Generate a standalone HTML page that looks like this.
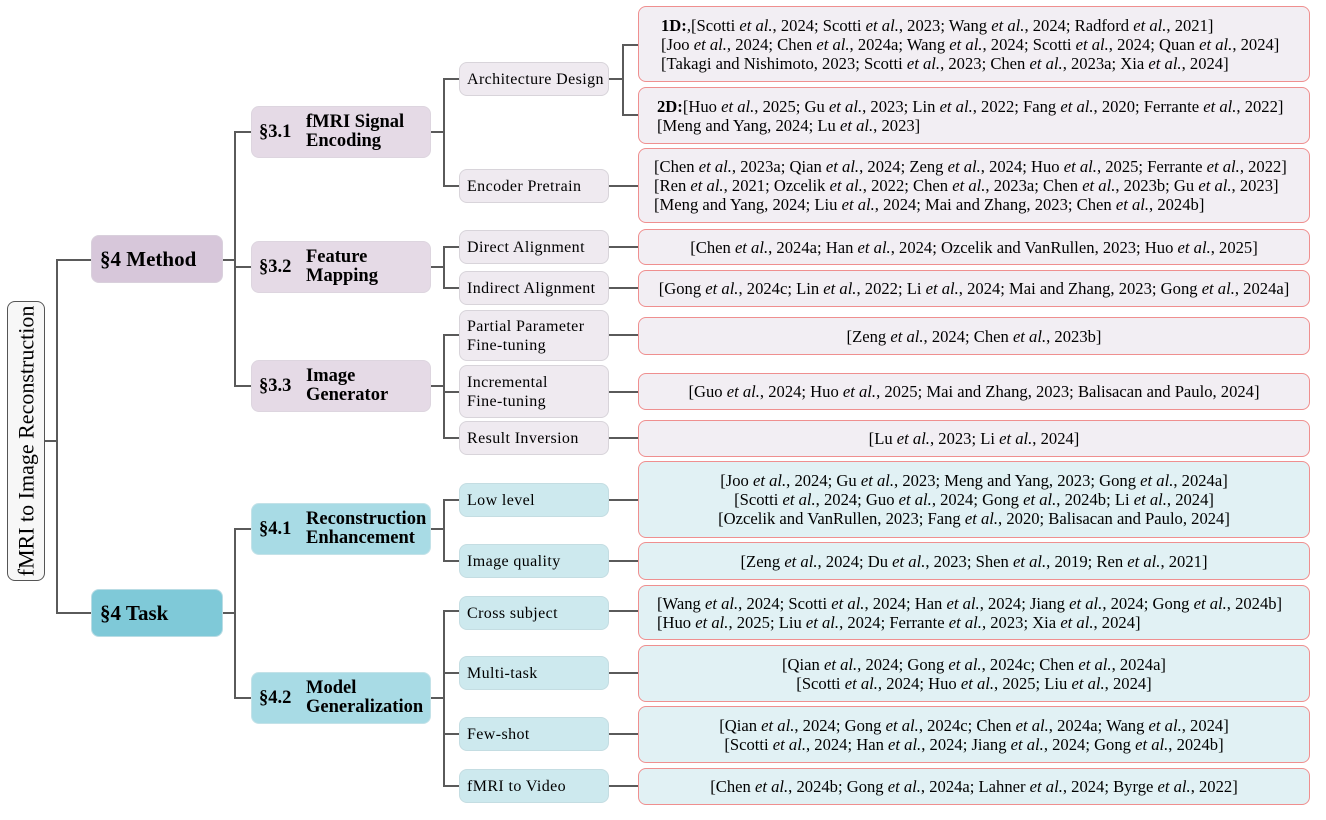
<!DOCTYPE html>
<html><head><meta charset="utf-8"><style>
body{margin:0;width:1326px;height:820px;background:#fff;position:relative;font-family:"Liberation Serif",serif;overflow:hidden}
.b{position:absolute;box-sizing:border-box;display:flex;align-items:center;border-radius:8px}
.l{position:absolute;background:#5a5a5a}
.h{height:2px}.v{width:2px}
.m1{background:#d7c7da;border:1px solid #d9d0dc}
.m2{background:#e5dae6;border:1px solid #ddd5df}
.m3{background:#efeaf0;border:1px solid #d8d4da;font-size:16px;letter-spacing:0.4px;padding-left:7px;line-height:19px}
.r1{background:#f2eef3;border:1px solid #ef8f8f;font-size:16.6px;line-height:19px;justify-content:center;text-align:center;white-space:nowrap}
.t1{background:#7fc9d8;border:1px solid #b9dce4}
.t2{background:#a8dbe5;border:1px solid #c3e2e8}
.t3{background:#cde9ee;border:1px solid #c4dde2;font-size:16px;letter-spacing:0.4px;padding-left:7px;line-height:19px}
.r2{background:#e1f1f4;border:1px solid #ef8f8f;font-size:16.6px;line-height:19px;justify-content:center;text-align:center;white-space:nowrap}
.big{font-weight:bold;font-size:21px;padding-left:8px}
.sub{font-weight:bold;font-size:18.5px;line-height:19px}
.sub .n{width:47px;padding-left:7px;flex:none}
.left{justify-content:flex-start;text-align:left;padding-left:20px}
</style></head><body>
<div class="b" style="left:7px;top:301px;width:38px;height:280px;border:1px solid #555;border-radius:8px;background:#f7f7f7;justify-content:center"><div style="transform:rotate(-90deg);white-space:nowrap;font-size:22px">fMRI to Image Reconstruction</div></div>
<div class="l h" style="left:45px;top:440px;width:13px"></div>
<div class="l v" style="left:56px;top:259px;height:355px"></div>
<div class="l h" style="left:56px;top:259px;width:35px"></div>
<div class="l h" style="left:56px;top:612px;width:35px"></div>

<div class="b m1 big" style="left:91px;top:235px;width:132px;height:48px">§4 Method</div>
<div class="b t1 big" style="left:91px;top:589px;width:132px;height:48px">§4 Task</div>

<div class="l h" style="left:223px;top:259px;width:13px"></div>
<div class="l v" style="left:234px;top:131px;height:256px"></div>
<div class="l h" style="left:234px;top:131px;width:17px"></div>
<div class="l h" style="left:234px;top:266px;width:17px"></div>
<div class="l h" style="left:234px;top:385px;width:17px"></div>
<div class="l h" style="left:223px;top:612px;width:13px"></div>
<div class="l v" style="left:234px;top:528px;height:171px"></div>
<div class="l h" style="left:234px;top:528px;width:17px"></div>
<div class="l h" style="left:234px;top:697px;width:17px"></div>

<div class="b m2 sub" style="left:251px;top:106px;width:180px;height:52px"><span class="n">§3.1</span><span>fMRI Signal<br>Encoding</span></div>
<div class="b m2 sub" style="left:251px;top:241px;width:180px;height:52px"><span class="n">§3.2</span><span>Feature<br>Mapping</span></div>
<div class="b m2 sub" style="left:251px;top:360px;width:180px;height:52px"><span class="n">§3.3</span><span>Image<br>Generator</span></div>
<div class="b t2 sub" style="left:251px;top:503px;width:180px;height:52px"><span class="n">§4.1</span><span>Reconstruction<br>Enhancement</span></div>
<div class="b t2 sub" style="left:251px;top:672px;width:180px;height:52px"><span class="n">§4.2</span><span>Model<br>Generalization</span></div>

<div class="l h" style="left:431px;top:131px;width:14px"></div>
<div class="l v" style="left:443px;top:78px;height:108px"></div>
<div class="l h" style="left:443px;top:78px;width:16px"></div>
<div class="l h" style="left:443px;top:185px;width:16px"></div>
<div class="l h" style="left:431px;top:266px;width:14px"></div>
<div class="l v" style="left:443px;top:246px;height:42px"></div>
<div class="l h" style="left:443px;top:246px;width:16px"></div>
<div class="l h" style="left:443px;top:287px;width:16px"></div>
<div class="l h" style="left:431px;top:385px;width:14px"></div>
<div class="l v" style="left:443px;top:334px;height:104px"></div>
<div class="l h" style="left:443px;top:334px;width:16px"></div>
<div class="l h" style="left:443px;top:391px;width:16px"></div>
<div class="l h" style="left:443px;top:437px;width:16px"></div>
<div class="l h" style="left:431px;top:528px;width:14px"></div>
<div class="l v" style="left:443px;top:499px;height:62px"></div>
<div class="l h" style="left:443px;top:499px;width:16px"></div>
<div class="l h" style="left:443px;top:560px;width:16px"></div>
<div class="l h" style="left:431px;top:697px;width:14px"></div>
<div class="l v" style="left:443px;top:610px;height:176px"></div>
<div class="l h" style="left:443px;top:610px;width:16px"></div>
<div class="l h" style="left:443px;top:672px;width:16px"></div>
<div class="l h" style="left:443px;top:733px;width:16px"></div>
<div class="l h" style="left:443px;top:785px;width:16px"></div>

<div class="b m3" style="left:459px;top:62px;width:150px;height:34px">Architecture Design</div>
<div class="b m3" style="left:459px;top:169px;width:150px;height:34px">Encoder Pretrain</div>
<div class="b m3" style="left:459px;top:230px;width:150px;height:34px">Direct Alignment</div>
<div class="b m3" style="left:459px;top:271px;width:150px;height:34px">Indirect Alignment</div>
<div class="b m3" style="left:459px;top:310px;width:150px;height:51px">Partial Parameter<br>Fine-tuning</div>
<div class="b m3" style="left:459px;top:365px;width:150px;height:53px">Incremental<br>Fine-tuning</div>
<div class="b m3" style="left:459px;top:421px;width:150px;height:34px">Result Inversion</div>
<div class="b t3" style="left:459px;top:483px;width:150px;height:34px">Low level</div>
<div class="b t3" style="left:459px;top:544px;width:150px;height:34px">Image quality</div>
<div class="b t3" style="left:459px;top:596px;width:150px;height:34px">Cross subject</div>
<div class="b t3" style="left:459px;top:656px;width:150px;height:34px">Multi-task</div>
<div class="b t3" style="left:459px;top:717px;width:150px;height:34px">Few-shot</div>
<div class="b t3" style="left:459px;top:769px;width:150px;height:34px">fMRI to Video</div>

<div class="l h" style="left:609px;top:78px;width:15px"></div>
<div class="l v" style="left:622px;top:44px;height:72px"></div>
<div class="l h" style="left:622px;top:44px;width:16px"></div>
<div class="l h" style="left:622px;top:114px;width:16px"></div>
<div class="l h" style="left:609px;top:185px;width:29px"></div>
<div class="l h" style="left:609px;top:246px;width:29px"></div>
<div class="l h" style="left:609px;top:287px;width:29px"></div>
<div class="l h" style="left:609px;top:334px;width:29px"></div>
<div class="l h" style="left:609px;top:391px;width:29px"></div>
<div class="l h" style="left:609px;top:437px;width:29px"></div>
<div class="l h" style="left:609px;top:499px;width:29px"></div>
<div class="l h" style="left:609px;top:560px;width:29px"></div>
<div class="l h" style="left:609px;top:610px;width:29px"></div>
<div class="l h" style="left:609px;top:672px;width:29px"></div>
<div class="l h" style="left:609px;top:733px;width:29px"></div>
<div class="l h" style="left:609px;top:785px;width:29px"></div>

<div class="b r1 left" style="left:638px;top:6px;width:672px;height:76px;padding-left:22px"><div><b>1D:</b>,[Scotti <i>et al.</i>, 2024; Scotti <i>et al.</i>, 2023; Wang <i>et al.</i>, 2024; Radford <i>et al.</i>, 2021]<br>[Joo <i>et al.</i>, 2024; Chen <i>et al.</i>, 2024a; Wang <i>et al.</i>, 2024; Scotti <i>et al.</i>, 2024; Quan <i>et al.</i>, 2024]<br>[Takagi and Nishimoto, 2023; Scotti <i>et al.</i>, 2023; Chen <i>et al.</i>, 2023a; Xia <i>et al.</i>, 2024]</div></div>
<div class="b r1 left" style="left:638px;top:87px;width:672px;height:57px;padding-left:18px"><div><b>2D:</b>[Huo <i>et al.</i>, 2025; Gu <i>et al.</i>, 2023; Lin <i>et al.</i>, 2022; Fang <i>et al.</i>, 2020; Ferrante <i>et al.</i>, 2022]<br>[Meng and Yang, 2024; Lu <i>et al.</i>, 2023]</div></div>
<div class="b r1 left" style="left:638px;top:148px;width:672px;height:75px;padding-left:15px"><div>[Chen <i>et al.</i>, 2023a; Qian <i>et al.</i>, 2024; Zeng <i>et al.</i>, 2024; Huo <i>et al.</i>, 2025; Ferrante <i>et al.</i>, 2022]<br>[Ren <i>et al.</i>, 2021; Ozcelik <i>et al.</i>, 2022; Chen <i>et al.</i>, 2023a; Chen <i>et al.</i>, 2023b; Gu <i>et al.</i>, 2023]<br>[Meng and Yang, 2024; Liu <i>et al.</i>, 2024; Mai and Zhang, 2023; Chen <i>et al.</i>, 2024b]</div></div>
<div class="b r1" style="left:638px;top:229px;width:672px;height:36px"><div>[Chen <i>et al.</i>, 2024a; Han <i>et al.</i>, 2024; Ozcelik and VanRullen, 2023; Huo <i>et al.</i>, 2025]</div></div>
<div class="b r1" style="left:638px;top:270px;width:672px;height:37px"><div>[Gong <i>et al.</i>, 2024c; Lin <i>et al.</i>, 2022; Li <i>et al.</i>, 2024; Mai and Zhang, 2023; Gong <i>et al.</i>, 2024a]</div></div>
<div class="b r1" style="left:638px;top:317px;width:672px;height:38px"><div>[Zeng <i>et al.</i>, 2024; Chen <i>et al.</i>, 2023b]</div></div>
<div class="b r1" style="left:638px;top:373px;width:672px;height:37px"><div>[Guo <i>et al.</i>, 2024; Huo <i>et al.</i>, 2025; Mai and Zhang, 2023; Balisacan and Paulo, 2024]</div></div>
<div class="b r1" style="left:638px;top:420px;width:672px;height:37px"><div>[Lu <i>et al.</i>, 2023; Li <i>et al.</i>, 2024]</div></div>

<div class="b r2" style="left:638px;top:461px;width:672px;height:77px"><div>[Joo <i>et al.</i>, 2024; Gu <i>et al.</i>, 2023; Meng and Yang, 2023; Gong <i>et al.</i>, 2024a]<br>[Scotti <i>et al.</i>, 2024; Guo <i>et al.</i>, 2024; Gong <i>et al.</i>, 2024b; Li <i>et al.</i>, 2024]<br>[Ozcelik and VanRullen, 2023; Fang <i>et al.</i>, 2020; Balisacan and Paulo, 2024]</div></div>
<div class="b r2" style="left:638px;top:542px;width:672px;height:38px"><div>[Zeng <i>et al.</i>, 2024; Du <i>et al.</i>, 2023; Shen <i>et al.</i>, 2019; Ren <i>et al.</i>, 2021]</div></div>
<div class="b r2 left" style="left:638px;top:585px;width:672px;height:55px;padding-left:18px"><div>[Wang <i>et al.</i>, 2024; Scotti <i>et al.</i>, 2024; Han <i>et al.</i>, 2024; Jiang <i>et al.</i>, 2024; Gong <i>et al.</i>, 2024b]<br>[Huo <i>et al.</i>, 2025; Liu <i>et al.</i>, 2024; Ferrante <i>et al.</i>, 2023; Xia <i>et al.</i>, 2024]</div></div>
<div class="b r2" style="left:638px;top:645px;width:672px;height:57px"><div>[Qian <i>et al.</i>, 2024; Gong <i>et al.</i>, 2024c; Chen <i>et al.</i>, 2024a]<br>[Scotti <i>et al.</i>, 2024; Huo <i>et al.</i>, 2025; Liu <i>et al.</i>, 2024]</div></div>
<div class="b r2" style="left:638px;top:706px;width:672px;height:57px"><div>[Qian <i>et al.</i>, 2024; Gong <i>et al.</i>, 2024c; Chen <i>et al.</i>, 2024a; Wang <i>et al.</i>, 2024]<br>[Scotti <i>et al.</i>, 2024; Han <i>et al.</i>, 2024; Jiang <i>et al.</i>, 2024; Gong <i>et al.</i>, 2024b]</div></div>
<div class="b r2" style="left:638px;top:768px;width:672px;height:37px"><div>[Chen <i>et al.</i>, 2024b; Gong <i>et al.</i>, 2024a; Lahner <i>et al.</i>, 2024; Byrge <i>et al.</i>, 2022]</div></div>
</body></html>
